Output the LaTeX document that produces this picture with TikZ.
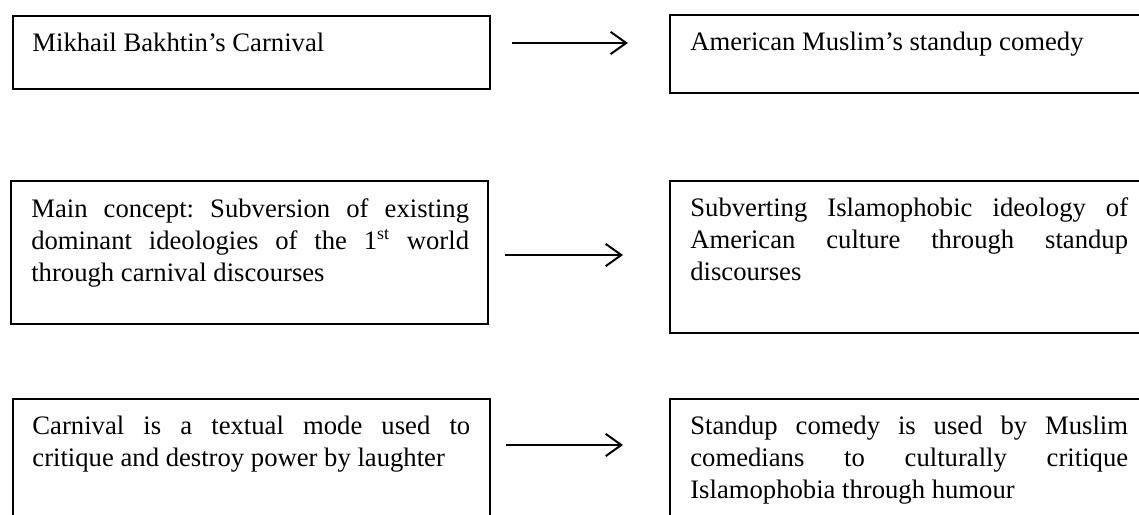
\documentclass[tikz,border=0pt]{standalone}
\usepackage{fontspec}
\setmainfont{Liberation Serif}
\usepackage{tikz}
\usetikzlibrary{arrows.meta,positioning}

\tikzset{
  box/.style={draw, line width=0.8pt, anchor=north west, inner sep=0pt, minimum width=214.6pt},
  txt/.style={inner sep=0pt, text width=197pt, align=justify,
    font={\fontsize{12}{14.4}\selectfont\frenchspacing\hyphenpenalty=10000\relax\tolerance=10000\relax}},
  arr/.style={line width=0.9pt, -{Straight Barb[length=7pt,width=10pt,line width=0.9pt]}}
}

\begin{document}
\begin{tikzpicture}[x=0.45pt, y=-0.45pt]
\useasboundingbox (0,0) rectangle (1139,515);

%Boxes
\node[box, minimum height=32.9pt] (bakhtin) at (12,15) {};
\node[box, minimum height=35.1pt] (comedy) at (669,14) {};
\node[box, minimum height=64.4pt] (concept) at (10,180) {};
\node[box, minimum height=68.4pt] (subvert) at (669,180) {};
\node[box, minimum height=64pt] (mode) at (12,398) {};
\node[box, minimum height=64pt] (critique) at (669,398) {};

%Texts
\node[txt, below right=16.6pt and 9pt of bakhtin.north west, anchor=base west] (bakhtintxt)
 {Mikhail Bakhtin’s Carnival};
\node[txt, below right=16.6pt and 9.4pt of comedy.north west, anchor=base west] (comedytxt)
 {American Muslim’s standup comedy};
\node[txt, below right=16.8pt and 9.4pt of concept.north west, anchor=base west] (concepttxt)
 {Main concept: Subversion of existing\linebreak dominant ideologies of the 1\textsuperscript{st} world\linebreak through carnival discourses};
\node[txt, below right=16.4pt and 9.4pt of subvert.north west, anchor=base west] (subverttxt)
 {Subverting Islamophobic ideology of\linebreak American culture through standup\linebreak discourses};
\node[txt, below right=16.4pt and 9pt of mode.north west, anchor=base west] (modetxt)
 {Carnival is a textual mode used to\linebreak critique and destroy power by laughter};
\node[txt, below right=16.4pt and 9.4pt of critique.north west, anchor=base west] (critiquetxt)
 {Standup comedy is used by Muslim\linebreak comedians to culturally critique\linebreak Islamophobia through humour};

%Arrows
\coordinate (row1) at (0,43);
\coordinate (row2) at (0,255);
\coordinate (row3) at (0,445);
\draw[arr, shorten <=9.5pt, shorten >=18.5pt] (bakhtin.east |- row1) -- (comedy.west |- row1);
\draw[arr, shorten <=7.2pt, shorten >=20.7pt] (concept.east |- row2) -- (subvert.west |- row2);
\draw[arr, shorten <=6.8pt, shorten >=20.7pt] (mode.east |- row3) -- (critique.west |- row3);

\end{tikzpicture}
\end{document}
